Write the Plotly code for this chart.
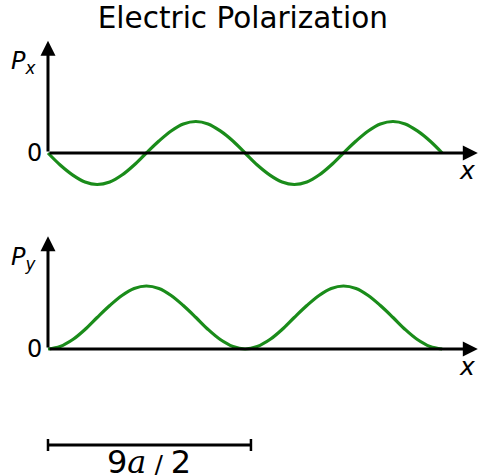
import plotly.graph_objects as go

# Position along the chain, in units of the lattice constant a
x_pos = [0.00, 0.27, 0.55, 0.82, 1.09, 1.37, 1.64, 1.91, 2.18, 2.46, 2.73,
         3.00, 3.28, 3.55, 3.82, 4.10, 4.37, 4.64, 4.92, 5.19, 5.46, 5.74,
         6.01, 6.28, 6.55, 6.83, 7.10, 7.37, 7.65, 7.92, 8.19, 8.47, 8.74]

# Transverse polarization components
p_x = [0.00, -0.19, -0.35, -0.46, -0.50, -0.46, -0.35, -0.19, 0.00, 0.19, 0.35,
       0.46, 0.50, 0.46, 0.35, 0.19, 0.00, -0.19, -0.35, -0.46, -0.50, -0.46,
       -0.35, -0.19, 0.00, 0.19, 0.35, 0.46, 0.50, 0.46, 0.35, 0.19, 0.00]
p_y = [0.00, 0.04, 0.15, 0.31, 0.50, 0.69, 0.85, 0.96, 1.00, 0.96, 0.85,
       0.69, 0.50, 0.31, 0.15, 0.04, 0.00, 0.04, 0.15, 0.31, 0.50, 0.69,
       0.85, 0.96, 1.00, 0.96, 0.85, 0.69, 0.50, 0.31, 0.15, 0.04, 0.00]

# Length shown by the scale bar
scale_len = 4.5
scale_label = ("9<span style='font-family:DejaVu Serif'><i>a</i></span>"
               "<span style='font-size:25px'> / </span>2")

GREEN = "#1a8c1a"
W, H = 478, 475
X_RANGE = [-1.064, 9.534]
X_END = 9.53          # x-axis arrow tip
Y_TIP_TOP = 1.78      # P_x arrow tip
Y_TIP_BOT = 1.79      # P_y arrow tip

fig = go.Figure()
fig.add_trace(go.Scatter(x=x_pos, y=p_x, mode="lines", xaxis="x", yaxis="y",
                         line=dict(color=GREEN, width=3.2, shape="spline"),
                         showlegend=False, hoverinfo="skip"))
fig.add_trace(go.Scatter(x=x_pos, y=p_y, mode="lines", xaxis="x", yaxis="y2",
                         line=dict(color=GREEN, width=3.2, shape="spline"),
                         showlegend=False, hoverinfo="skip"))

font_main = "DejaVu Sans"
ann = []


def arrow(xt, yt, xa, ya, yref):
    return dict(x=xt, y=yt, ax=xa, ay=ya, xref="x", yref=yref, axref="x", ayref=yref,
                showarrow=True, arrowhead=2, arrowsize=1.0, arrowwidth=3,
                arrowcolor="black", text="", standoff=0, startstandoff=0)


for yref, ytip, sub in (("y", Y_TIP_TOP, "x"), ("y2", Y_TIP_BOT, "y")):
    # horizontal and vertical axes with arrow heads
    ann.append(arrow(X_END, 0, 0, 0, yref))
    ann.append(arrow(0, ytip, 0, 0, yref))
    # zero label
    ann.append(dict(x=-0.08, y=0, xref="x", yref=yref, text="0", showarrow=False,
                    xanchor="right", yanchor="middle",
                    font=dict(family=font_main, size=24, color="black")))
    # axis names
    ann.append(dict(x=-0.54, y=ytip - 0.35, xref="x", yref=yref,
                    text=f"<i>P</i><sub><i>{sub}</i></sub>", showarrow=False,
                    xanchor="center", yanchor="middle",
                    font=dict(family=font_main, size=24, color="black")))
    ann.append(dict(x=9.3, y=-0.27, xref="x", yref=yref, text="<i>x</i>",
                    showarrow=False, xanchor="center", yanchor="middle",
                    font=dict(family=font_main, size=25, color="black")))

# scale bar
bar_y = 1 - 445 / H
tick_h = 6 / H
shapes = [
    dict(type="line", xref="x", yref="paper", x0=0, x1=scale_len, y0=bar_y, y1=bar_y,
         line=dict(color="black", width=3)),
    dict(type="line", xref="x", yref="paper", x0=0, x1=0, y0=bar_y - tick_h,
         y1=bar_y + tick_h, line=dict(color="black", width=2.5)),
    dict(type="line", xref="x", yref="paper", x0=scale_len, x1=scale_len,
         y0=bar_y - tick_h, y1=bar_y + tick_h, line=dict(color="black", width=2.5)),
]
ann.append(dict(x=scale_len / 2, y=1 - 462 / H, xref="x", yref="paper",
                text=scale_label, showarrow=False, xanchor="center", yanchor="middle",
                font=dict(family=font_main, size=32, color="black")))

fig.update_layout(
    width=W, height=H,
    margin=dict(l=0, r=0, t=0, b=0),
    paper_bgcolor="white", plot_bgcolor="white",
    title=dict(text="Electric Polarization", x=0.508, xanchor="center",
               y=1 - 18 / H, yanchor="middle",
               font=dict(family=font_main, size=29.5, color="black")),
    xaxis=dict(range=X_RANGE, domain=[0, 1], visible=False, fixedrange=True),
    yaxis=dict(range=[-0.746, 2.111], domain=[1 - 200 / H, 1 - 20 / H],
               visible=False, fixedrange=True),
    yaxis2=dict(range=[-1.127, 2.127], domain=[1 - 420 / H, 1 - 215 / H],
                visible=False, fixedrange=True, anchor="x"),
    annotations=ann,
    shapes=shapes,
)

fig.write_html("out.html", config=dict(displayModeBar=False))
